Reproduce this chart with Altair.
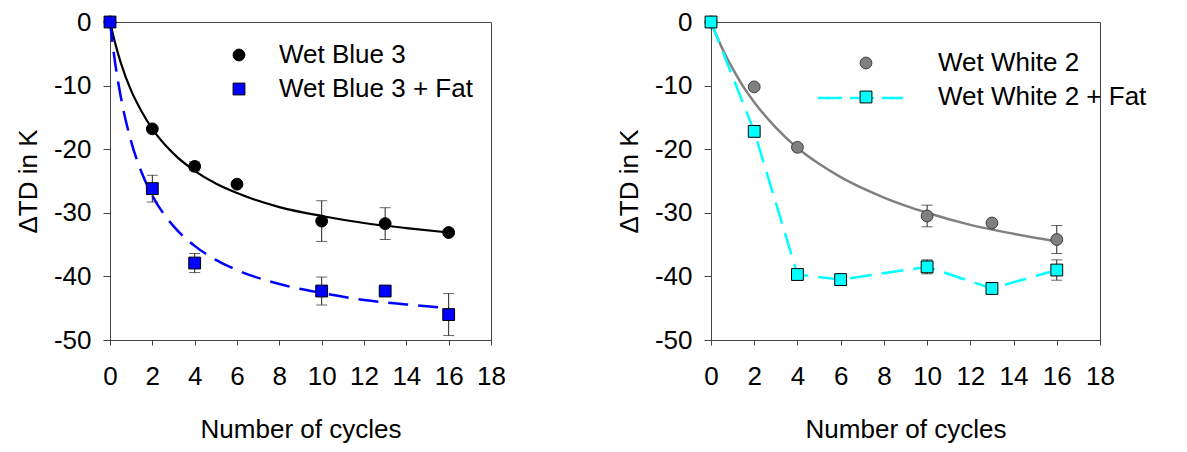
import altair as alt
import pandas as pd

# ---------------- data ----------------
x_ticks = [0, 2, 4, 6, 8, 10, 12, 14, 16, 18]
y_ticks = [-50, -40, -30, -20, -10, 0]

names_left = ["Wet Blue 3", "Wet Blue 3 + Fat"]
names_right = ["Wet White 2", "Wet White 2 + Fat"]

cycles_wb3 = [0, 2, 4, 6, 10, 13, 16]
dtd_wb3 = [0, -16.8, -22.7, -25.5, -31.3, -31.7, -33.1]
err_wb3 = [0, 0, 0.7, 0, 3.2, 2.5, 0]

cycles_wb3f = [0, 2, 4, 10, 13, 16]
dtd_wb3f = [0, -26.2, -37.9, -42.3, -42.3, -46.0]
err_wb3f = [0, 2.1, 1.5, 2.2, 0, 3.3]

cycles_ww2 = [0, 2, 4, 10, 13, 16]
dtd_ww2 = [0, -10.2, -19.7, -30.5, -31.6, -34.2]
err_ww2 = [0, 0, 0, 1.7, 0, 2.2]

cycles_ww2f = [0, 2, 4, 6, 10, 13, 16]
dtd_ww2f = [0, -17.2, -39.7, -40.5, -38.5, -41.9, -39.0]
err_ww2f = [0, 0, 0, 0, 1.1, 0, 1.6]

# fitted curves
fit_x = [0, 0.25, 0.5, 1, 1.5, 2, 3, 4, 5, 6, 8, 10, 12, 14, 16]
fit_wb3 = [0, -3.4, -6.3, -10.8, -14.1, -16.8, -20.7, -23.4, -25.4, -26.9, -29.1, -30.5, -31.6, -32.4, -33.1]
fit_wb3f = [0, -6.6, -11.6, -18.8, -23.7, -27.3, -32.1, -35.2, -37.4, -39.0, -41.2, -42.6, -43.7, -44.4, -45.0]
fit_ww2 = [0, -2.1, -4.0, -7.3, -10.2, -12.6, -16.6, -19.8, -22.3, -24.4, -27.6, -30.0, -31.9, -33.3, -34.5]

FONT = "Liberation Sans"
H = 318


def pts_df(xs, ys, name):
    return pd.DataFrame({"x": xs, "y": ys, "series": name})


def err_df(xs, ys, es):
    rows = [(x, y - e, y + e) for x, y, e in zip(xs, ys, es) if e > 0]
    return pd.DataFrame(rows, columns=["x", "lo", "hi"])


def cap_df(xs, ys, es):
    rows = []
    for x, y, e in zip(xs, ys, es):
        if e > 0:
            rows.append((x, y - e))
            rows.append((x, y + e))
    return pd.DataFrame(rows, columns=["x", "y"])


X_SCALE = alt.Scale(domain=[0, 18], nice=False)
Y_SCALE = alt.Scale(domain=[-50, 0], nice=False)
X_AXIS = alt.Axis(values=x_ticks, title="Number of cycles", tickSize=5, labelPadding=18,
                  titlePadding=27, labelFlush=False, labelExpr="datum.value + ''")
Y_AXIS = alt.Axis(values=y_ticks, title="ΔTD in K", tickSize=7, labelPadding=12,
                  titlePadding=12, labelFlush=False, labelExpr="datum.value + ''")


def X(field="x"):
    return alt.X(f"{field}:Q", scale=X_SCALE, axis=X_AXIS)


def Y(field="y"):
    return alt.Y(f"{field}:Q", scale=Y_SCALE, axis=Y_AXIS)


def panel(width, names, fills, strokes, points, errs, caps, line_layers, legend, extra=None):
    errbars = alt.Chart(errs).mark_rule(color="#222", strokeWidth=1).encode(
        x=X(), y=Y("lo"), y2="hi")
    errcaps = alt.Chart(caps).mark_tick(orient="horizontal", size=11, thickness=1,
                                        color="#222").encode(x=X(), y=Y())
    pts = alt.Chart(points).mark_point(filled=True, size=140, opacity=1,
                                       strokeWidth=1).encode(
        x=X(), y=Y(),
        shape=alt.Shape("series:N", scale=alt.Scale(domain=names, range=["circle", "square"]),
                        legend=legend, sort=names),
        fill=alt.Fill("series:N", scale=alt.Scale(domain=names, range=fills),
                      legend=legend, sort=names),
        stroke=alt.Stroke("series:N", scale=alt.Scale(domain=names, range=strokes),
                          legend=legend, sort=names),
    )
    layers = list(line_layers) + [errbars, errcaps, pts]
    if extra is not None:
        layers.append(extra)
    return alt.layer(*layers).properties(width=width, height=H)


# ---------------- left panel ----------------
fitL = pd.DataFrame({"x": fit_x, "a": fit_wb3, "b": fit_wb3f})
line_wb3 = alt.Chart(fitL).mark_line(color="black", strokeWidth=2.2,
                                     interpolate="monotone").encode(x=X(), y=Y("a"))
line_wb3f = alt.Chart(fitL).mark_line(color="#0000FF", strokeWidth=2.5, strokeDash=[20, 10],
                                      interpolate="monotone").encode(x=X(), y=Y("b"))

ptsL = pd.concat([pts_df(cycles_wb3, dtd_wb3, names_left[0]),
                  pts_df(cycles_wb3f, dtd_wb3f, names_left[1])], ignore_index=True)
errL = pd.concat([err_df(cycles_wb3, dtd_wb3, err_wb3),
                  err_df(cycles_wb3f, dtd_wb3f, err_wb3f)], ignore_index=True)
capL = pd.concat([cap_df(cycles_wb3, dtd_wb3, err_wb3),
                  cap_df(cycles_wb3f, dtd_wb3f, err_wb3f)], ignore_index=True)

legL = alt.Legend(orient="none", legendX=116, legendY=20, title=None, labelFontSize=26,
                  labelFont=FONT, labelColor="black", labelOffset=27, rowPadding=8,
                  symbolSize=140, symbolStrokeWidth=1, padding=0, labelLimit=400)

left = panel(381, names_left, ["black", "#0000FF"], ["black", "black"], ptsL, errL, capL,
             [line_wb3, line_wb3f], legL)

# ---------------- right panel ----------------
fitR = pd.DataFrame({"x": fit_x, "a": fit_ww2})
line_ww2 = alt.Chart(fitR).mark_line(color="#808080", strokeWidth=2.5,
                                     interpolate="monotone").encode(x=X(), y=Y("a"))
lineR = pd.DataFrame({"x": cycles_ww2f, "y": dtd_ww2f})
line_ww2f = alt.Chart(lineR).mark_line(color="#00FFFF", strokeWidth=2.5,
                                       strokeDash=[22, 10]).encode(x=X(), y=Y())

ptsR = pd.concat([pts_df(cycles_ww2, dtd_ww2, names_right[0]),
                  pts_df(cycles_ww2f, dtd_ww2f, names_right[1])], ignore_index=True)
errR = pd.concat([err_df(cycles_ww2, dtd_ww2, err_ww2),
                  err_df(cycles_ww2f, dtd_ww2f, err_ww2f)], ignore_index=True)
capR = pd.concat([cap_df(cycles_ww2, dtd_ww2, err_ww2),
                  cap_df(cycles_ww2f, dtd_ww2f, err_ww2f)], ignore_index=True)

legR = alt.Legend(orient="none", legendX=142, legendY=28, title=None, labelFontSize=26,
                  labelFont=FONT, labelColor="black", labelOffset=59, rowPadding=8,
                  symbolSize=140, symbolStrokeWidth=1, padding=0, labelLimit=400)

# dashed line sample for the legend entry of the connected series
legend_dash = alt.Chart(pd.DataFrame({"k": [0]})).mark_rule(
    color="#00FFFF", strokeWidth=2.5, strokeDash=[24, 8]).encode(
    x=alt.value(107), x2=alt.value(192), y=alt.value(76))

right = panel(389, names_right, ["#808080", "#00FFFF"], ["#404040", "black"], ptsR, errR, capR,
              [line_ww2, line_ww2f], legR, extra=legend_dash)

chart = alt.hconcat(left, right, spacing=109).resolve_scale(
    shape="independent", fill="independent", stroke="independent"
).properties(
    padding={"left": 6, "top": 0, "right": 0, "bottom": 0}
).configure_axis(
    labelFont=FONT, titleFont=FONT, labelFontSize=26, titleFontSize=26,
    titleFontWeight="normal", labelColor="black", titleColor="black",
    domainColor="#444", tickColor="#444", grid=False, domainWidth=1, tickWidth=1,
).configure_view(stroke="#444", strokeWidth=1).configure_legend(
    labelFont=FONT
)

chart.save("out.html", embed_options={"renderer": "svg", "actions": False})
